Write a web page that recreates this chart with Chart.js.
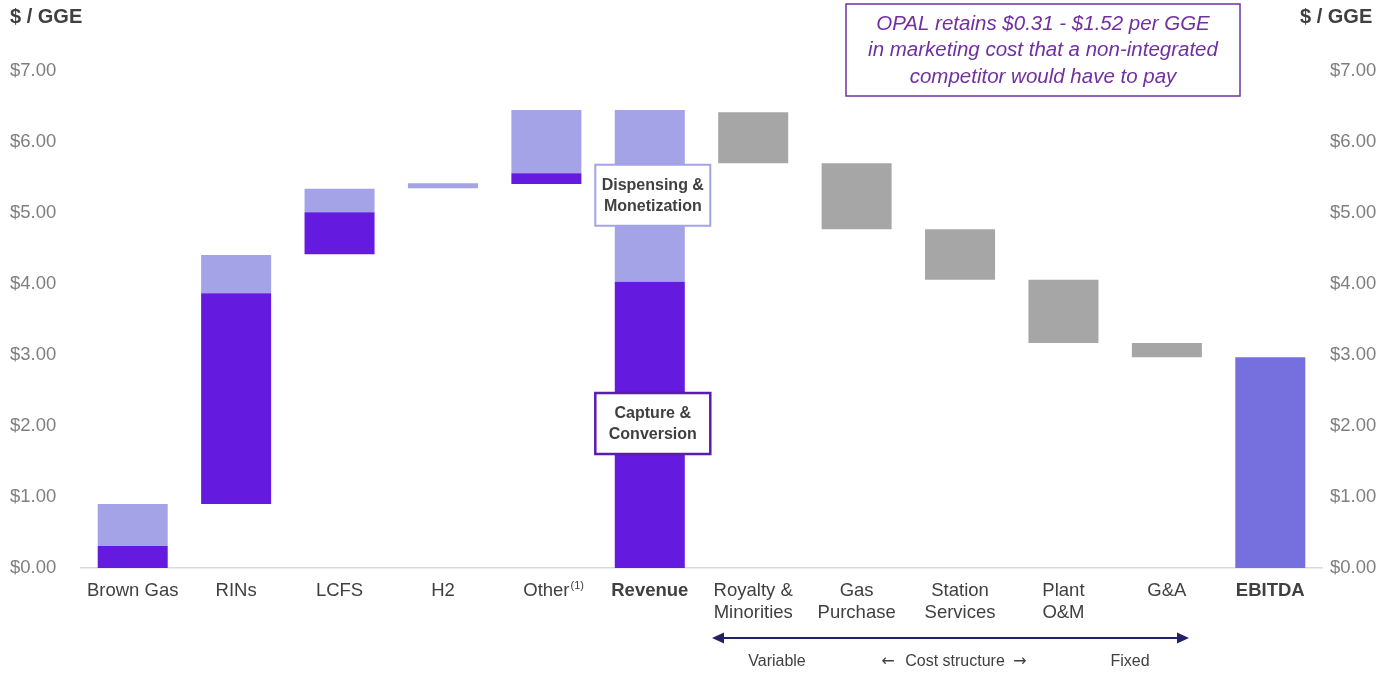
<!DOCTYPE html>
<html><head><meta charset="utf-8">
<script src="https://cdn.jsdelivr.net/npm/chart.js@4/dist/chart.umd.min.js"></script>
<style>html,body{margin:0;padding:0;background:#fff;}#wrap{position:relative;width:1396px;height:676px;}</style>
</head><body><div id="wrap"><canvas id="c" width="1396" height="676"></canvas></div>
<script>
const FONT = '"Liberation Sans", Arial, Helvetica, sans-serif';

const categories = ['Brown Gas', 'RINs', 'LCFS', 'H2', 'Other', 'Revenue',
  ['Royalty &', 'Minorities'], ['Gas', 'Purchase'], ['Station', 'Services'], ['Plant', 'O&M'], 'G&A', 'EBITDA'];
const footnoteMark = '(1)';

// floating ranges [from, to] in $ / GGE
const captureConversion = [[0, 0.31], [0.90, 3.87], [4.42, 5.01], null, [5.41, 5.56], [0, 4.03],
  null, null, null, null, null, null];
const dispensingMonetization = [[0.31, 0.90], [3.87, 4.41], [5.01, 5.34], [5.35, 5.42], [5.56, 6.45], [4.03, 6.45],
  null, null, null, null, null, null];
const costs = [null, null, null, null, null, null,
  [5.70, 6.42], [4.77, 5.70], [4.06, 4.77], [3.17, 4.06], [2.97, 3.17], null];
const ebitda = [null, null, null, null, null, null, null, null, null, null, null, [0, 2.97]];

const yMin = 0, yMax = 7, yStep = 1;
const boldCategories = ['Revenue', 'EBITDA'];

function tickLabel(v) { return '$' + Number(v).toFixed(2); }

function drawBox(ctx, cx, cy, w, h, color, lw, lines) {
  ctx.fillStyle = '#ffffff';
  ctx.fillRect(cx - w / 2, cy - h / 2, w, h);
  ctx.strokeStyle = color;
  ctx.lineWidth = lw;
  ctx.strokeRect(cx - w / 2, cy - h / 2, w, h);
  ctx.fillStyle = '#404040';
  ctx.font = 'bold 16px ' + FONT;
  ctx.textAlign = 'center';
  ctx.textBaseline = 'middle';
  ctx.fillText(lines[0], cx, cy - 10);
  ctx.fillText(lines[1], cx, cy + 11);
}

const overlay = {
  id: 'overlay',
  afterDatasetsDraw(chart) {
    const { ctx, scales: { x, y } } = chart;
    ctx.save();
    const rev = x.getPixelForValue(5) + 3;
    drawBox(ctx, rev, y.getPixelForValue(5.25), 115, 61, '#A5A3E8', 2, ['Dispensing &', 'Monetization']);
    drawBox(ctx, rev, y.getPixelForValue(2.035), 115, 61, '#5A1DB0', 2.5, ['Capture &', 'Conversion']);

    // footnote superscript after "Other"
    ctx.font = '18.5px ' + FONT;
    const ow = ctx.measureText(categories[4]).width;
    const ox = x.getPixelForValue(4) + ow / 2 + 1;
    ctx.fillStyle = '#404040';
    ctx.font = '11px ' + FONT;
    ctx.textAlign = 'left';
    ctx.textBaseline = 'middle';
    ctx.fillText(footnoteMark, ox, 586);

    // titles
    ctx.fillStyle = '#404040';
    ctx.font = 'bold 20px ' + FONT;
    ctx.textAlign = 'left';
    ctx.textBaseline = 'middle';
    ctx.fillText('$ / GGE', 10, 17);
    ctx.fillText('$ / GGE', 1300, 17);

    // top annotation box
    ctx.strokeStyle = '#7030A0';
    ctx.lineWidth = 1.5;
    ctx.strokeRect(846, 4, 394, 92);
    ctx.fillStyle = '#7030A0';
    ctx.font = 'italic 20.5px ' + FONT;
    ctx.textAlign = 'center';
    ctx.fillText('OPAL retains $0.31 - $1.52 per GGE', 1043, 24);
    ctx.fillText('in marketing cost that a non-integrated', 1043, 50);
    ctx.fillText('competitor would have to pay', 1043, 77);

    // cost structure arrow
    const x1 = 712, x2 = 1189, ay = 638;
    ctx.strokeStyle = '#1F2266';
    ctx.fillStyle = '#1F2266';
    ctx.lineWidth = 2;
    ctx.beginPath(); ctx.moveTo(x1 + 6, ay); ctx.lineTo(x2 - 6, ay); ctx.stroke();
    ctx.beginPath(); ctx.moveTo(x1, ay); ctx.lineTo(x1 + 12, ay - 5.5); ctx.lineTo(x1 + 12, ay + 5.5); ctx.closePath(); ctx.fill();
    ctx.beginPath(); ctx.moveTo(x2, ay); ctx.lineTo(x2 - 12, ay - 5.5); ctx.lineTo(x2 - 12, ay + 5.5); ctx.closePath(); ctx.fill();

    ctx.fillStyle = '#404040';
    ctx.font = '16px ' + FONT;
    ctx.textAlign = 'center';
    ctx.fillText('Variable', 777, 662);
    ctx.fillText('Cost structure', 955, 662);
    ctx.font = '16px "DejaVu Sans", ' + FONT;
    ctx.fillText('\u2190', 888, 662);
    ctx.fillText('\u2192', 1020, 662);
    ctx.font = '16px ' + FONT;
    ctx.fillText('Fixed', 1130, 662);
    ctx.restore();
  }
};

const commonBar = { borderWidth: 0, barPercentage: 0.677, categoryPercentage: 1, borderSkipped: false };

new Chart(document.getElementById('c'), {
  type: 'bar',
  data: {
    labels: categories,
    datasets: [
      Object.assign({ label: 'Capture & Conversion', data: captureConversion, backgroundColor: '#651ADF' }, commonBar),
      Object.assign({ label: 'Dispensing & Monetization', data: dispensingMonetization, backgroundColor: '#A5A3E8' }, commonBar),
      Object.assign({ label: 'Costs', data: costs, backgroundColor: '#A6A6A6' }, commonBar),
      Object.assign({ label: 'EBITDA', data: ebitda, backgroundColor: '#7570DD' }, commonBar)
    ]
  },
  options: {
    responsive: false,
    animation: false,
    layout: { padding: { left: 10, right: 0, top: 71, bottom: 0 } },
    plugins: { legend: { display: false }, tooltip: { enabled: false } },
    scales: {
      x: {
        stacked: true,
        offset: true,
        grid: { display: false, drawTicks: false },
        border: { display: true, color: '#D9D9D9', width: 1.5 },
        ticks: {
          padding: 12,
          autoSkip: false,
          maxRotation: 0,
          color: '#404040',
          font: (c) => {
            const lab = categories[c.index];
            const b = boldCategories.includes(lab);
            return { family: FONT, size: 18.5, weight: b ? 'bold' : 'normal', lineHeight: 1.2 };
          }
        },
        afterFit: (s) => { s.height = 108; }
      },
      y: {
        stacked: false,
        position: 'left',
        min: yMin, max: yMax,
        grid: { display: false, drawTicks: false },
        border: { display: false },
        ticks: { stepSize: yStep, callback: tickLabel, crossAlign: 'far', padding: 0, color: '#7F7F7F',
          font: { family: FONT, size: 18.5 } },
        afterFit: (s) => { s.width = 71; }
      },
      y2: {
        position: 'right',
        min: yMin, max: yMax,
        grid: { display: false, drawTicks: false },
        border: { display: false },
        ticks: { stepSize: yStep, callback: tickLabel, crossAlign: 'near', padding: 8, color: '#7F7F7F',
          font: { family: FONT, size: 18.5 } },
        afterFit: (s) => { s.width = 74; }
      }
    }
  },
  plugins: [overlay]
});
</script>
</body></html>
